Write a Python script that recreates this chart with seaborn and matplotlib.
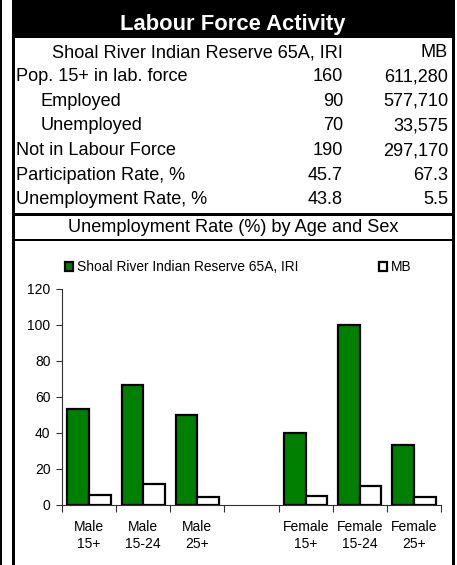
import matplotlib
matplotlib.use("Agg")
import matplotlib.pyplot as plt
import pandas as pd
import seaborn as sns
from matplotlib.patches import Rectangle

# Table values
place_name = "Shoal River Indian Reserve 65A, IRI"
prov_name = "MB"
row_labels = ["Pop. 15+ in lab. force", "Employed", "Unemployed",
              "Not in Labour Force", "Participation Rate, %", "Unemployment Rate, %"]
row_indented = [False, True, True, False, False, False]
place_values = ["160", "90", "70", "190", "45.7", "43.8"]
prov_values = ["611,280", "577,710", "33,575", "297,170", "67.3", "5.5"]

# Chart values (blank category separates male and female groups)
categories = ["Male\n15+", "Male\n15-24", "Male\n25+", " ",
              "Female\n15+", "Female\n15-24", "Female\n25+"]
place_rates = [53.3, 66.7, 50.0, None, 40.0, 100.0, 33.3]
prov_rates = [5.8, 11.6, 4.5, None, 5.2, 10.4, 4.3]

W, H = 457, 565
plt.rcParams["font.family"] = ["Liberation Sans", "DejaVu Sans"]


def fx(x):
    return x / W


def fy(y):
    return 1 - y / H


fig = plt.figure(figsize=(W / 100, H / 100), dpi=100, facecolor="white")


def box(x0, y0, x1, y1, color="black"):
    fig.add_artist(Rectangle((fx(x0), fy(y1)), fx(x1) - fx(x0), fy(y0) - fy(y1),
                             transform=fig.transFigure, facecolor=color,
                             edgecolor="none", zorder=5))


# frame and header
box(0, 0, 2, H)
box(12, 0, 455, 38)
box(12, 0, 15, H)
box(452, 0, 455, H)
box(12, 213, 455, 215.5)
box(12, 239, 455, 241.5)

fig.text(fx(233), fy(30), "Labour Force Activity", ha="center", va="baseline",
         fontsize=15.8, fontweight="bold", color="white", zorder=6)

body = 13.1
fig.text(fx(343), fy(57), place_name, ha="right", va="baseline", fontsize=body)
fig.text(fx(448), fy(57), prov_name, ha="right", va="baseline", fontsize=body)
for i, label in enumerate(row_labels):
    yb = 81.5 + i * 24.5
    x0 = 41 if row_indented[i] else 16
    fig.text(fx(x0), fy(yb), label, ha="left", va="baseline", fontsize=body)
    fig.text(fx(343), fy(yb), place_values[i], ha="right", va="baseline", fontsize=body)
    fig.text(fx(448), fy(yb), prov_values[i], ha="right", va="baseline", fontsize=body)

fig.text(fx(233), fy(232), "Unemployment Rate (%) by Age and Sex", ha="center",
         va="baseline", fontsize=body)

# Bar chart
df = pd.DataFrame({
    "category": categories * 2,
    "rate": place_rates + prov_rates,
    "area": [place_name] * len(categories) + [prov_name] * len(categories),
})

ax = fig.add_axes([fx(62), fy(505), fx(441) - fx(62), fy(289) - fy(505)])
sns.barplot(data=df, x="category", y="rate", hue="area", order=categories,
            hue_order=[place_name, prov_name],
            palette={place_name: "#008000", prov_name: "white"},
            edgecolor="black", linewidth=1.6, saturation=1, errorbar=None,
            width=0.8, ax=ax)

ax.set_xlim(-0.5, 6.5)
ax.set_ylim(0, 120)
ax.set_yticks(range(0, 121, 20))
ax.set_xlabel("")
ax.set_ylabel("")
ax.set_facecolor("white")
for side in ["top", "right"]:
    ax.spines[side].set_visible(False)
for side in ["left", "bottom"]:
    ax.spines[side].set_linewidth(0.8)
    ax.spines[side].set_color("#303030")
ax.set_xticks([i - 0.5 for i in range(len(categories) + 1)], minor=True)
ax.tick_params(axis="x", which="major", length=0, labelsize=10, pad=10.5)
ax.tick_params(axis="x", which="minor", length=5, width=0.8, color="#303030")
ax.tick_params(axis="y", length=4, width=0.8, color="#303030", labelsize=10, pad=4.3)
for lab in ax.get_xticklabels():
    lab.set_linespacing(1.3)

sns.move_legend(ax, "center left", bbox_to_anchor=(fx(65), fy(267)),
                bbox_transform=fig.transFigure, ncol=2, frameon=False, title=None,
                fontsize=9.9, handlelength=0.6, handleheight=0.6, handletextpad=0.3,
                columnspacing=5.8, borderpad=0, borderaxespad=0)

fig.savefig("out.png", dpi=100, facecolor="white")
